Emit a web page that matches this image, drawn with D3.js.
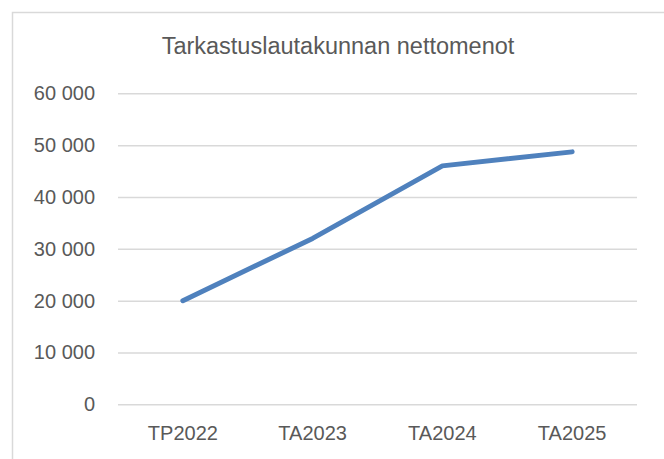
<!DOCTYPE html>
<html>
<head>
<meta charset="utf-8">
<script src="https://d3js.org/d3.v7.min.js"></script>
<style>
  body { margin: 0; background: #fff; }
  text { font-family: "Liberation Sans", Arial, sans-serif; fill: #595959; }
</style>
</head>
<body>
<div id="chart"></div>
<script>
// chart values
var categories = ['TP2022', 'TA2023', 'TA2024', 'TA2025'];
var values = [20000, 32000, 46000, 48700];
var yTicks = [0, 10000, 20000, 30000, 40000, 50000, 60000];
var TITLE = 'Tarkastuslautakunnan nettomenot';

var width = 664, height = 459;
var margin = {left: 118, right: 27, top: 93.3, bottom: 54.7};

var svg = d3.select('#chart').append('svg')
    .attr('width', width)
    .attr('height', height);

// chart area border (runs off the right and bottom edges)
svg.append('rect')
    .attr('x', 12.5).attr('y', 12.5)
    .attr('width', width + 20).attr('height', height + 20)
    .attr('fill', 'none')
    .attr('stroke', '#d9d9d9')
    .attr('stroke-width', 1.5);

var x = d3.scaleBand()
    .domain(categories)
    .range([margin.left, width - margin.right]);

var y = d3.scaleLinear()
    .domain([0, 60000])
    .range([height - margin.bottom, margin.top]);

var fmt = function (d) { return d3.format(',')(d).replace(/,/g, ' '); };

// gridlines + y labels
var yAxis = d3.axisLeft(y)
    .tickValues(yTicks)
    .tickSize(-(width - margin.right - margin.left))
    .tickPadding(23)
    .tickFormat(fmt);

var gy = svg.append('g')
    .attr('transform', 'translate(' + margin.left + ',0)')
    .call(yAxis);
gy.select('.domain').remove();
gy.selectAll('.tick line')
    .attr('stroke', '#d9d9d9')
    .attr('stroke-width', 1.5);
gy.selectAll('.tick text')
    .attr('font-size', 20)
    .style('font-family', '"Liberation Sans", Arial, sans-serif')
    .attr('fill', '#595959');

// category labels
var xAxis = d3.axisBottom(x).tickSize(0).tickPadding(22);
var gx = svg.append('g')
    .attr('transform', 'translate(0,' + y(0) + ')')
    .call(xAxis);
gx.select('.domain').remove();
gx.selectAll('.tick text')
    .attr('font-size', 20)
    .style('font-family', '"Liberation Sans", Arial, sans-serif')
    .attr('fill', '#595959');

// the line
var line = d3.line()
    .x(function (d, i) { return x(categories[i]) + x.bandwidth() / 2; })
    .y(function (d) { return y(d); });

svg.append('path')
    .datum(values)
    .attr('d', line)
    .attr('fill', 'none')
    .attr('stroke', '#4f81bd')
    .attr('stroke-width', 5)
    .attr('stroke-linecap', 'round')
    .attr('stroke-linejoin', 'round');

// title
svg.append('text')
    .attr('x', 338)
    .attr('y', 54)
    .attr('text-anchor', 'middle')
    .attr('font-size', 23.5)
    .text(TITLE);
</script>
</body>
</html>
